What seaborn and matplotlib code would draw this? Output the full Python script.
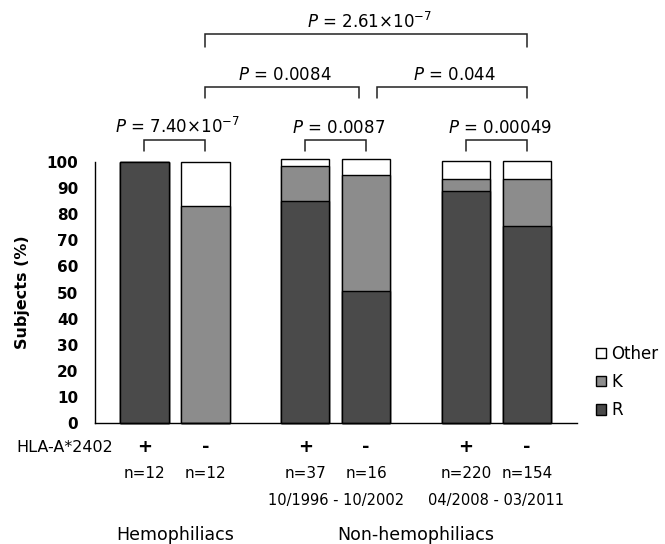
import numpy as np
import pandas as pd
import matplotlib
matplotlib.use("Agg")
import matplotlib.pyplot as plt
import seaborn as sns
from matplotlib.transforms import blended_transform_factory

# ---------------- data ----------------
hla_status = ["+", "-", "+", "-", "+", "-"]
n_labels = ["n=12", "n=12", "n=37", "n=16", "n=220", "n=154"]
group_names = ["Hemophiliacs", "Non-hemophiliacs"]
periods = ["10/1996 - 10/2002", "04/2008 - 03/2011"]
pct_R = [100, 0, 85, 50.5, 89, 75.5]
pct_K = [0, 83, 13.5, 44.5, 4.5, 18]
pct_Other = [0, 17, 2.7, 6.3, 7, 7]
series_names = ["Other", "K", "R"]
y_ticks = [0, 10, 20, 30, 40, 50, 60, 70, 80, 90, 100]
# comparisons: (bar a, bar b, bracket level, p-value text)
comp_a = [0, 2, 4, 1, 3, 1]
comp_b = [1, 3, 5, 3, 5, 5]
comp_level = [0, 0, 0, 1, 1, 2]
comp_p = [r"7.40×$10^{-7}$", "0.0087", "0.00049", "0.0084", "0.044", r"2.61×$10^{-7}$"]

# ---------------- layout ----------------
pair_gap = 2.635
pos = [g * pair_gap + j for g in range(3) for j in range(2)]
df = pd.DataFrame({
    "pos": pos,
    "R": pct_R,
    "RK": np.add(pct_R, pct_K),
    "All": np.add(np.add(pct_R, pct_K), pct_Other),
})

sns.set_theme(style="white")
plt.rcParams["font.family"] = ["DejaVu Sans"]
plt.rcParams["mathtext.fontset"] = "dejavusans"
for k in ["text.color", "axes.labelcolor", "xtick.color", "ytick.color", "axes.edgecolor"]:
    plt.rcParams[k] = "black"

fig = plt.figure(figsize=(6.65, 5.44), dpi=100)
ax = fig.add_axes([0.1429, 0.2224, 0.7248, 0.4798])

col_R = "#4a4a4a"
col_K = "#8c8c8c"
col_O = "#ffffff"
bw = 0.79
for ycol, c, lab in [("All", col_O, "Other"), ("RK", col_K, "K"), ("R", col_R, "R")]:
    sns.barplot(data=df, x="pos", y=ycol, native_scale=True, width=bw,
                color=c, saturation=1, edgecolor="black", linewidth=1.0,
                errorbar=None, label=lab, ax=ax)
for patch in ax.patches:
    patch.set_clip_on(False)

ax.set_xlim(-0.81, 7.09)
ax.set_ylim(0, 100)
ax.set_yticks(y_ticks)
ax.set_yticklabels([str(t) for t in y_ticks], fontsize=11, fontweight="bold")
ax.tick_params(axis="y", direction="in", length=5, width=1, pad=12, colors="black")
sep = [(pos[1] + pos[2]) / 2, (pos[3] + pos[4]) / 2, 7.08]
ax.set_xticks(sep)
ax.set_xticklabels([])
ax.tick_params(axis="x", direction="in", length=6, width=1, colors="black")
ax.set_xlabel("")
ax.set_ylabel("Subjects (%)", fontsize=11.5, fontweight="bold")
ax.yaxis.set_label_coords(-0.135, 0.5)
for s in ["top", "right"]:
    ax.spines[s].set_visible(False)
for s in ["left", "bottom"]:
    ax.spines[s].set_color("black")
    ax.spines[s].set_linewidth(1.0)

# legend
h, l = ax.get_legend_handles_labels()
order = [l.index(n) for n in series_names]
ax.legend([h[i] for i in order], [l[i] for i in order], loc="center left",
          bbox_to_anchor=(588 / 665, (544 - 382) / 544), bbox_transform=fig.transFigure,
          frameon=False, fontsize=12, handlelength=0.6, handleheight=0.6,
          handletextpad=0.3, labelspacing=0.62, borderpad=0)

# brackets
bracket_top = [108.4, 128.6, 148.9]
bracket_drop = [4.2, 4.2, 4.8]
text_base = [111.2, 131.4, 151.2]
for a, b, lev, ptxt in zip(comp_a, comp_b, comp_level, comp_p):
    xa, xb = pos[a], pos[b]
    if lev == 1:
        if b == 3:
            xb = pos[3] - 0.12
        if a == 3:
            xa = pos[3] + 0.17
    top = bracket_top[lev]
    bot = top - bracket_drop[lev]
    ax.plot([xa, xa, xb, xb], [bot, top, top, bot], color="#222222", lw=1.1,
            clip_on=False, solid_joinstyle="miter")
    ax.text((xa + xb) / 2 + 0.05, text_base[lev], r"$\mathit{P}$ = " + ptxt,
            ha="center", va="baseline", fontsize=12, clip_on=False)

# bottom labels
tr = blended_transform_factory(ax.transData, fig.transFigure)
fig.text(16 / 665, (544 - 447) / 544, "HLA-A*2402", ha="left", va="center", fontsize=11.5)
for i, p in enumerate(pos):
    ax.text(p, (544 - 447) / 544, hla_status[i], transform=tr, ha="center", va="center",
            fontsize=13, fontweight="bold")
    ax.text(p, (544 - 473) / 544, n_labels[i], transform=tr, ha="center", va="center",
            fontsize=11)
for g in range(2):
    c = (pos[2 + 2 * g] + pos[3 + 2 * g]) / 2
    ax.text(c, (544 - 501) / 544, periods[g], transform=tr, ha="center", va="center",
            fontsize=10.5)
ax.text((pos[0] + pos[1]) / 2, (544 - 535) / 544, group_names[0], transform=tr,
        ha="center", va="center", fontsize=12.5)
ax.text((pos[2] + pos[5]) / 2, (544 - 535) / 544, group_names[1], transform=tr,
        ha="center", va="center", fontsize=12.5)

fig.savefig("out.png", dpi=100)
